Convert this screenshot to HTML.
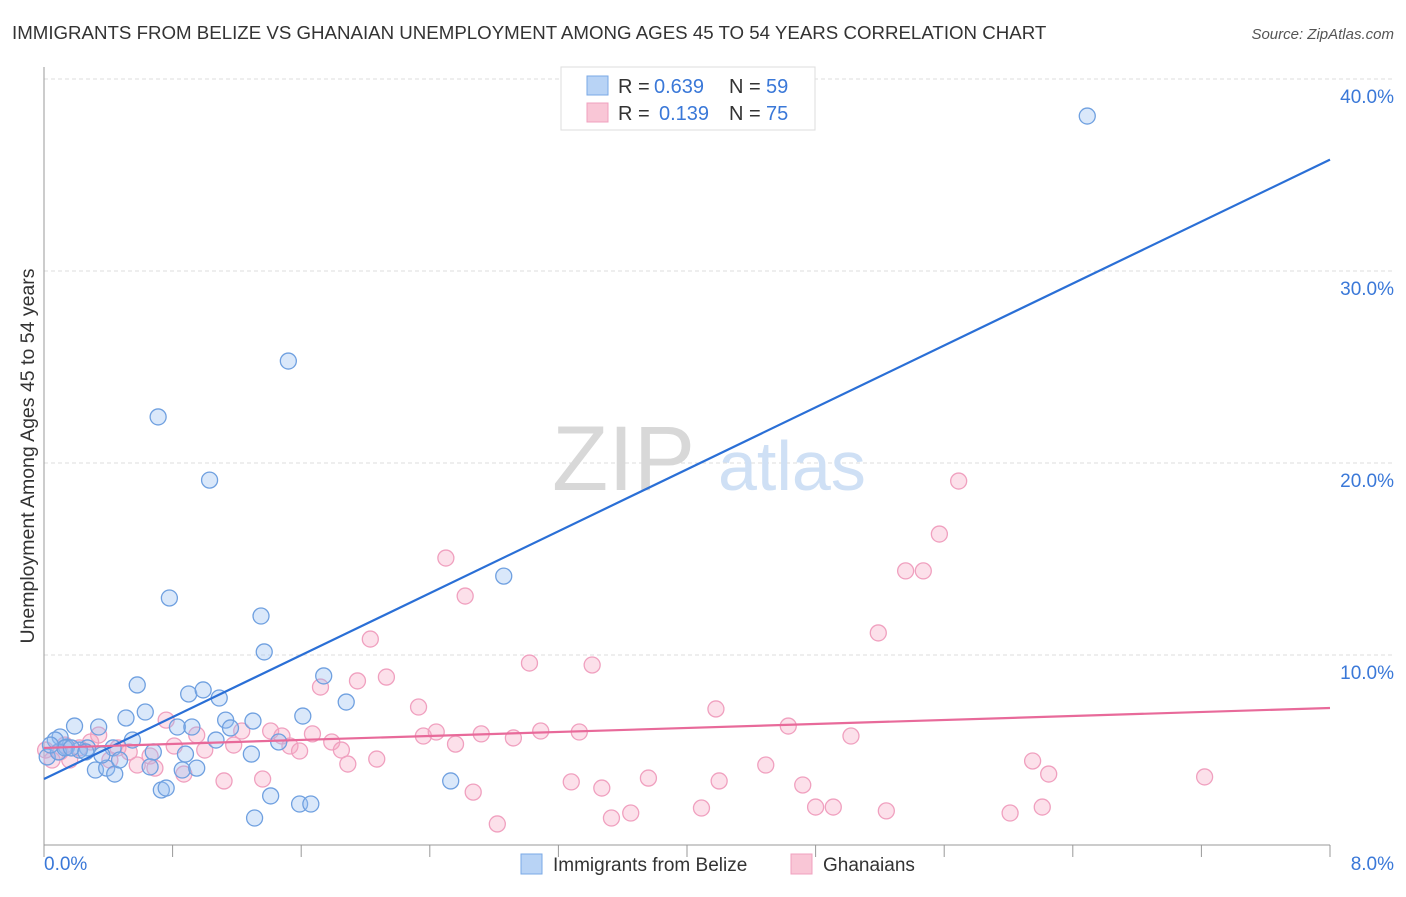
<!DOCTYPE html>
<html><head><meta charset="utf-8"><style>
body{margin:0;background:#fff;font-family:"Liberation Sans",sans-serif;}
svg text{font-family:"Liberation Sans",sans-serif;}
</style></head><body>
<svg id="chart" width="1406" height="892" viewBox="0 0 1406 892" xmlns="http://www.w3.org/2000/svg">
<text x="12" y="39" font-size="18.7" fill="#333">IMMIGRANTS FROM BELIZE VS GHANAIAN UNEMPLOYMENT AMONG AGES 45 TO 54 YEARS CORRELATION CHART</text>
<text x="1394" y="39" font-size="15" fill="#555" text-anchor="end" font-style="italic">Source: ZipAtlas.com</text>
<g id="grid"></g>
<text x="552" y="490" font-size="92" fill="#d8d8d8" font-family="Liberation Serif">ZIP</text>
<text x="718" y="490" font-size="70" fill="#cfe0f5">atlas</text>
<line x1="44" y1="67" x2="44" y2="845" stroke="#999" stroke-width="1"/>
<line x1="44" y1="845" x2="1330" y2="845" stroke="#999" stroke-width="1"/>
<g id="ticks"></g>
<g id="ylabels"></g>
<text x="44" y="870" font-size="19" fill="#3a78d8">0.0%</text>
<text x="1394" y="870" font-size="19" fill="#3a78d8" text-anchor="end">8.0%</text>
<text transform="translate(34,456) rotate(-90)" font-size="19.5" fill="#333" text-anchor="middle">Unemployment Among Ages 45 to 54 years</text>
<g id="pinkpts"></g>
<g id="bluepts"></g>
<line id="blueline" stroke="#2a6fd6" stroke-width="2.2"/>
<line id="pinkline" stroke="#e86a9a" stroke-width="2.2"/>
<g>
<rect x="561" y="67" width="254" height="63" fill="#fff" stroke="#ddd"/>
<rect x="587" y="76" width="21" height="19" fill="#b8d3f5" stroke="#7aa8e6"/>
<rect x="587" y="103" width="21" height="19" fill="#f9c6d6" stroke="#f0a0bf"/>
<text x="618" y="93" font-size="20" fill="#333">R =</text>
<text x="654" y="93" font-size="20" fill="#3a78d8">0.639</text>
<text x="729" y="93" font-size="20" fill="#333">N =</text>
<text x="766" y="93" font-size="20" fill="#3a78d8">59</text>
<text x="618" y="120" font-size="20" fill="#333">R =</text>
<text x="659" y="120" font-size="20" fill="#3a78d8">0.139</text>
<text x="729" y="120" font-size="20" fill="#333">N =</text>
<text x="766" y="120" font-size="20" fill="#3a78d8">75</text>
</g>
<g>
<rect x="521" y="854" width="21" height="20" fill="#b8d3f5" stroke="#7aa8e6"/>
<text x="553" y="871" font-size="19" fill="#333">Immigrants from Belize</text>
<rect x="791" y="854" width="21" height="20" fill="#f9c6d6" stroke="#f0a0bf"/>
<text x="823" y="871" font-size="19" fill="#333">Ghanaians</text>
</g>
</svg>
<script>
const yTicks=[10,20,30,40];
const yTickLabels=["10.0%","20.0%","30.0%","40.0%"];
const xTicks=[0,0.8,1.6,2.4,3.2,4.0,4.8,5.6,6.4,7.2,8.0];
const blueX=[6.49,1.52,0.71,1.03,2.86,0.78,1.35,1.37,1.74,0.58,1.88,0.90,0.99,1.09,1.61,0.51,0.63,0.19,0.34,0.10,0.83,0.92,1.13,1.30,1.16,1.07,0.55,1.46,0.07,0.14,0.27,0.43,0.68,0.88,1.29,0.02,0.22,0.09,0.32,0.39,0.44,0.66,0.86,0.95,2.53,0.73,0.76,1.41,1.59,1.66,1.31,0.13,0.17,0.47,0.04,0.26,0.36];
const blueY=[38.07,25.31,22.40,19.11,14.11,12.97,12.03,10.16,8.91,8.44,7.55,7.97,8.18,7.76,6.82,6.72,7.03,6.30,6.25,5.73,6.25,6.25,6.61,6.56,6.20,5.57,5.57,5.47,5.57,5.21,5.16,5.16,4.95,4.84,4.84,4.69,5.05,4.95,4.01,4.11,3.80,4.17,4.01,4.11,3.44,2.97,3.07,2.66,2.24,2.24,1.51,5.16,5.16,4.53,5.31,4.95,4.79];
const pinkX=[5.69,5.57,5.36,5.47,2.50,2.62,5.19,2.03,3.02,3.41,2.13,1.95,1.72,2.33,4.18,4.63,5.02,0.76,0.95,1.41,1.48,1.23,1.67,1.79,2.36,2.44,2.72,2.92,3.09,3.33,2.56,1.85,1.53,1.59,1.18,1.00,0.81,0.34,0.46,0.66,0.10,0.22,0.05,0.16,0.58,1.89,2.07,0.69,0.87,1.12,1.36,3.28,3.47,3.76,4.20,4.49,4.72,6.15,6.25,7.22,2.67,2.82,3.53,3.65,4.09,4.80,4.91,5.24,6.01,6.21,0.53,0.41,0.29,0.13,0.01];
const pinkY=[19.06,16.30,14.38,14.38,15.05,13.07,11.15,10.83,9.58,9.48,8.85,8.65,8.33,7.29,7.19,6.30,5.78,6.61,5.83,6.04,5.78,6.04,5.89,5.47,5.78,5.99,5.89,5.68,6.04,5.99,5.36,5.05,5.26,5.00,5.31,5.05,5.26,5.83,5.16,4.74,4.95,5.16,4.53,4.53,4.27,4.32,4.58,4.11,3.80,3.44,3.54,3.39,3.07,3.59,3.44,4.27,3.23,4.48,3.80,3.65,2.86,1.20,1.51,1.77,2.03,2.08,2.08,1.88,1.77,2.08,4.95,4.53,5.47,5.31,5.05];
const blueTrend=[3.54,35.8];
const pinkTrend=[5.16,7.24];
const NS="http://www.w3.org/2000/svg";
const xs=v=>44+v/8*1286;
const ys=v=>847-v*19.2;
function mk(t,a,p){const e=document.createElementNS(NS,t);for(const k in a)e.setAttribute(k,a[k]);p.appendChild(e);return e;}
const grid=document.getElementById('grid'),yl=document.getElementById('ylabels'),tk=document.getElementById('ticks');
yTicks.forEach((v,i)=>{
 const l=mk('line',{x1:44,x2:1394,y1:ys(v),y2:ys(v),stroke:'#ddd','stroke-dasharray':'4,3'},grid);
 
 
 const t=mk('text',{x:1394,y:ys(v)+24,'font-size':19,fill:'#3a78d8','text-anchor':'end'},yl);
 t.textContent=yTickLabels[i];
 
 
});
xTicks.forEach(v=>{
 const l=mk('line',{x1:xs(v),x2:xs(v),y1:845,y2:857,stroke:'#999'},tk);
 
 
});
const bp=document.getElementById('bluepts'),pp=document.getElementById('pinkpts');
pinkX.forEach((v,i)=>{
 const c=mk('circle',{cx:xs(v),cy:ys(pinkY[i]),r:8,fill:'rgba(245,165,195,0.35)',stroke:'#f0a0bf','stroke-width':1.3},pp);
 
 
});
blueX.forEach((v,i)=>{
 const c=mk('circle',{cx:xs(v),cy:ys(blueY[i]),r:8,fill:'rgba(150,190,240,0.35)',stroke:'#6fa0e0','stroke-width':1.3},bp);
 
 
});
const bl=document.getElementById('blueline');
bl.setAttribute('x1',xs(0));bl.setAttribute('x2',xs(8));bl.setAttribute('y1',ys(blueTrend[0]));bl.setAttribute('y2',ys(blueTrend[1]));
const pl=document.getElementById('pinkline');
pl.setAttribute('x1',xs(0));pl.setAttribute('x2',xs(8));pl.setAttribute('y1',ys(pinkTrend[0]));pl.setAttribute('y2',ys(pinkTrend[1]));
</script>
</body></html>
